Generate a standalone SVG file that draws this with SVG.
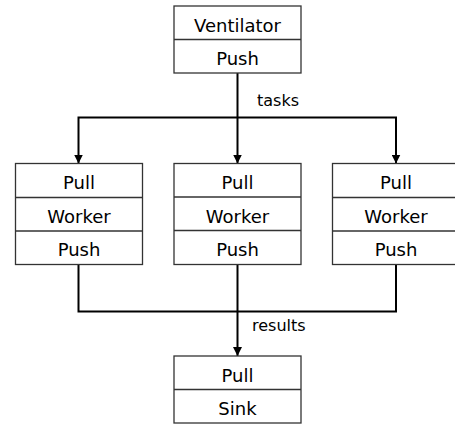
<svg xmlns="http://www.w3.org/2000/svg" width="455" height="425" viewBox="0 0 455 425">
<defs>
<style>
.box{fill:#fff;stroke:#333;stroke-width:1.3}
.div{stroke:#333;stroke-width:1.3}
.t{font-family:"DejaVu Sans",Verdana,sans-serif;font-size:18px;fill:#000;text-anchor:middle}
.lbl{font-family:"DejaVu Sans",Verdana,sans-serif;font-size:16px;fill:#000}
.c{fill:none;stroke:#000;stroke-width:2}
</style>
<marker id="arr" viewBox="0 0 10 10" refX="10" refY="5" markerWidth="9" markerHeight="9" markerUnits="userSpaceOnUse" orient="auto">
<path d="M0,0 L10,5 L0,10 z" fill="#000"/>
</marker>
</defs>
<rect width="455" height="425" fill="#fff"/>
<g id="connectors">
<path class="c" d="M237.5,73 V163.5" marker-end="url(#arr)"/>
<path class="c" d="M237.5,117.5 H78.5 V163.5" marker-end="url(#arr)"/>
<path class="c" d="M237.5,117.5 H396 V163.5" marker-end="url(#arr)"/>
<path class="c" d="M78.5,264.5 V311.5 H396 V264.5"/>
<path class="c" d="M237.5,264.5 V356" marker-end="url(#arr)"/>
<text class="lbl" x="257" y="106">tasks</text>
<text class="lbl" x="252" y="331">results</text>
</g>
<g id="ventilator">
<rect class="box" x="174" y="6" width="127" height="67"/>
<line class="div" x1="174" y1="39.5" x2="301" y2="39.5"/>
<text class="t" x="237.5" y="31.5">Ventilator</text>
<text class="t" x="237.5" y="64.5">Push</text>
</g>
<g id="worker1">
<rect class="box" x="15.5" y="163.5" width="127" height="101"/>
<line class="div" x1="15.5" y1="197.5" x2="142.5" y2="197.5"/>
<line class="div" x1="15.5" y1="231" x2="142.5" y2="231"/>
<text class="t" x="79" y="189">Pull</text>
<text class="t" x="79" y="222.5">Worker</text>
<text class="t" x="79" y="256">Push</text>
</g>
<g id="worker2">
<rect class="box" x="174" y="163.5" width="127" height="101"/>
<line class="div" x1="174" y1="197" x2="301" y2="197"/>
<line class="div" x1="174" y1="230.5" x2="301" y2="230.5"/>
<text class="t" x="237.5" y="189">Pull</text>
<text class="t" x="237.5" y="222.5">Worker</text>
<text class="t" x="237.5" y="256">Push</text>
</g>
<g id="worker3">
<rect class="box" x="332.5" y="163.5" width="127" height="101"/>
<line class="div" x1="332.5" y1="197.5" x2="459.5" y2="197.5"/>
<line class="div" x1="332.5" y1="231" x2="459.5" y2="231"/>
<text class="t" x="396" y="189">Pull</text>
<text class="t" x="396" y="222.5">Worker</text>
<text class="t" x="396" y="256">Push</text>
</g>
<g id="sink">
<rect class="box" x="174" y="356" width="127" height="67"/>
<line class="div" x1="174" y1="389.5" x2="301" y2="389.5"/>
<text class="t" x="237.5" y="381.5">Pull</text>
<text class="t" x="237.5" y="415">Sink</text>
</g>
</svg>
